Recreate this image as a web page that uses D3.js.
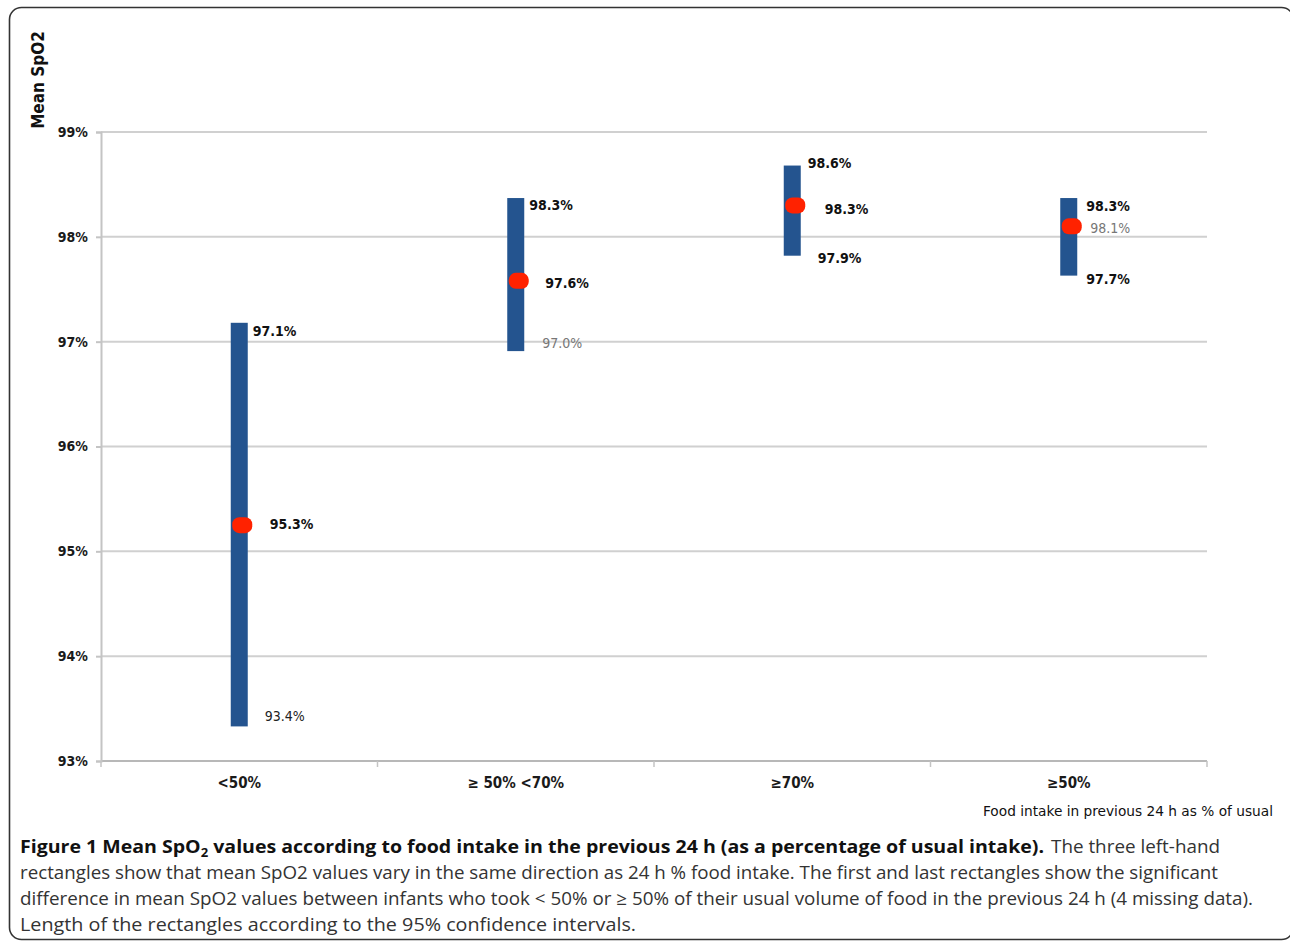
<!DOCTYPE html>
<html>
<head>
<meta charset="utf-8">
<script src="https://cdn.jsdelivr.net/npm/d3@7"></script>
<style>
  body { margin: 0; background: #fff; }
  svg { display: block; }
  .num { font-family: "DejaVu Sans Condensed", "DejaVu Sans", sans-serif; }
  .cap { font-family: "Open Sans", "Liberation Sans", sans-serif; }
</style>
</head>
<body>
<svg id="chart" width="1290" height="947"></svg>
<script>
// categories and values
const categories = ["<50%", "\u2265 50% <70%", "\u226570%", "\u226550%"];
const lows = [93.33, 96.91, 97.82, 97.63];
const highs = [97.18, 98.37, 98.68, 98.37];
const means = [95.25, 97.58, 98.30, 98.10];
const lowLabels = ["93.4%", "97.0%", "97.9%", "97.7%"];
const highLabels = ["97.1%", "98.3%", "98.6%", "98.3%"];
const meanLabels = ["95.3%", "97.6%", "98.3%", "98.1%"];
const yTicks = [93, 94, 95, 96, 97, 98, 99];

const svg = d3.select("#chart");
const plotLeft = 101, plotRight = 1207, plotTop = 132, plotBottom = 761;

const y = d3.scaleLinear().domain([93, 99]).range([plotBottom, plotTop]);
const x = d3.scaleBand().domain(categories).range([plotLeft, plotRight]);

// frame round the figure
svg.append("rect")
    .attr("x", 9.5).attr("y", 7.5)
    .attr("width", 1284).attr("height", 932)
    .attr("rx", 12)
    .attr("fill", "none")
    .attr("stroke", "#333")
    .attr("stroke-width", 1.6);

// gridlines
svg.append("g")
    .selectAll("line")
    .data(yTicks)
    .enter()
    .append("line")
    .attr("x1", plotLeft).attr("x2", plotRight)
    .attr("y1", d => y(d)).attr("y2", d => y(d))
    .attr("stroke", d => d === 93 ? "#b8b8b8" : "#d0d0d0")
    .attr("stroke-width", 2);

// y axis
const yAxis = svg.append("g")
    .attr("transform", `translate(${plotLeft},0)`)
    .call(d3.axisLeft(y).tickValues(yTicks).tickSize(5).tickPadding(8).tickFormat(d => d + "%"));
yAxis.select(".domain").attr("stroke", "#c4c4c4").attr("stroke-width", 2);
yAxis.selectAll(".tick line").attr("stroke", "#c4c4c4").attr("stroke-width", 2);
yAxis.selectAll("text")
    .attr("class", "num")
    .attr("font-size", 14)
    .attr("font-weight", "bold")
    .attr("fill", "#1a1a1a");

// x axis: labels under the bands, ticks at the band edges
const xAxis = svg.append("g")
    .attr("transform", `translate(0,${plotBottom})`)
    .call(d3.axisBottom(x).tickSize(0).tickPadding(16));
xAxis.select(".domain").remove();
xAxis.selectAll("text")
    .attr("class", "num")
    .attr("font-size", 15)
    .attr("font-weight", "bold")
    .attr("fill", "#1a1a1a");

const edges = categories.map(c => x(c)).concat([plotRight]);
svg.append("g")
    .selectAll("line")
    .data(edges)
    .enter()
    .append("line")
    .attr("x1", d => d).attr("x2", d => d)
    .attr("y1", plotBottom).attr("y2", plotBottom + 6)
    .attr("stroke", "#c4c4c4")
    .attr("stroke-width", 1.5);

// axis titles
svg.append("text")
    .attr("class", "num")
    .attr("transform", "translate(44,80) rotate(-90)")
    .attr("text-anchor", "middle")
    .attr("font-size", 17)
    .attr("font-weight", "bold")
    .attr("fill", "#111")
    .text("Mean SpO2");

svg.append("text")
    .attr("class", "num")
    .attr("x", 983).attr("y", 816)
    .attr("font-size", 14)
    .attr("fill", "#111")
    .attr("textLength", 290)
    .attr("lengthAdjust", "spacingAndGlyphs")
    .text("Food intake in previous 24 h as % of usual");

// confidence interval rectangles
const barW = 17;
const cx = c => x(c) + x.bandwidth() / 2;

svg.append("g")
    .selectAll("rect")
    .data(categories)
    .enter()
    .append("rect")
    .attr("x", c => cx(c) - barW / 2)
    .attr("y", (c, i) => y(highs[i]))
    .attr("width", barW)
    .attr("height", (c, i) => y(lows[i]) - y(highs[i]))
    .attr("fill", "#24548f");

// mean markers
svg.append("g")
    .selectAll("rect")
    .data(categories)
    .enter()
    .append("rect")
    .attr("x", c => cx(c) - 7)
    .attr("y", (c, i) => y(means[i]) - 8)
    .attr("width", 20)
    .attr("height", 16)
    .attr("rx", 7)
    .attr("fill", "#ff2200")
    .style("filter", "blur(0.6px)");

// data labels, placed at their own value with a small nudge
// [dx from bar edge, dy, colour, weight]
const highStyle = [[5, 0, "#111", "bold"], [5, 0, "#111", "bold"], [7, -11, "#111", "bold"], [9, 1, "#111", "bold"]];
const meanStyle = [[22, 4, "#111", "bold"], [21, 4, "#111", "bold"], [24, 4, "#111", "bold"], [13, 2, "#777", "normal"]];
const lowStyle = [[17, -3, "#222", "normal"], [18, 1, "#777", "normal"], [17, 11, "#111", "bold"], [9, 11, "#111", "bold"]];

function drawLabels(labels, styles) {
    svg.append("g")
        .selectAll("text")
        .data(categories)
        .enter()
        .append("text")
        .attr("class", "num")
        .attr("x", (c, i) => cx(c) + barW / 2 + styles[i][0])
        .attr("y", (c, i) => y(parseFloat(labels[i])) + styles[i][1])
        .attr("dominant-baseline", "central")
        .attr("font-size", 14)
        .attr("font-weight", (c, i) => styles[i][3])
        .attr("fill", (c, i) => styles[i][2])
        .text((c, i) => labels[i]);
}
drawLabels(highLabels, highStyle);
drawLabels(meanLabels, meanStyle);
drawLabels(lowLabels, lowStyle);

// caption
const cap = svg.append("g").attr("class", "cap").attr("font-size", 18);

const l1 = cap.append("text")
    .attr("x", 20).attr("y", 853)
    .attr("font-weight", "bold")
    .attr("fill", "#111")
    .attr("textLength", 1024)
    .attr("lengthAdjust", "spacingAndGlyphs");
l1.append("tspan").text("Figure 1 Mean SpO");
l1.append("tspan").attr("font-size", 12).attr("dy", 4).text("2");
l1.append("tspan").attr("dy", -4).text(" values according to food intake in the previous 24 h (as a percentage of usual intake).");

cap.append("text")
    .attr("x", 1051).attr("y", 853)
    .attr("fill", "#333")
    .attr("textLength", 169)
    .attr("lengthAdjust", "spacingAndGlyphs")
    .text("The three left-hand");

const captionLines = [
    ["rectangles show that mean SpO2 values vary in the same direction as 24 h % food intake. The first and last rectangles show the significant", 879, 1198],
    ["difference in mean SpO2 values between infants who took < 50% or \u2265 50% of their usual volume of food in the previous 24 h (4 missing data).", 905, 1233],
    ["Length of the rectangles according to the 95% confidence intervals.", 931, 616]
];
cap.selectAll("text.line")
    .data(captionLines)
    .enter()
    .append("text")
    .attr("class", "line")
    .attr("x", 20)
    .attr("y", d => d[1])
    .attr("fill", "#333")
    .attr("textLength", d => d[2])
    .attr("lengthAdjust", "spacingAndGlyphs")
    .text(d => d[0]);
</script>
</body>
</html>
